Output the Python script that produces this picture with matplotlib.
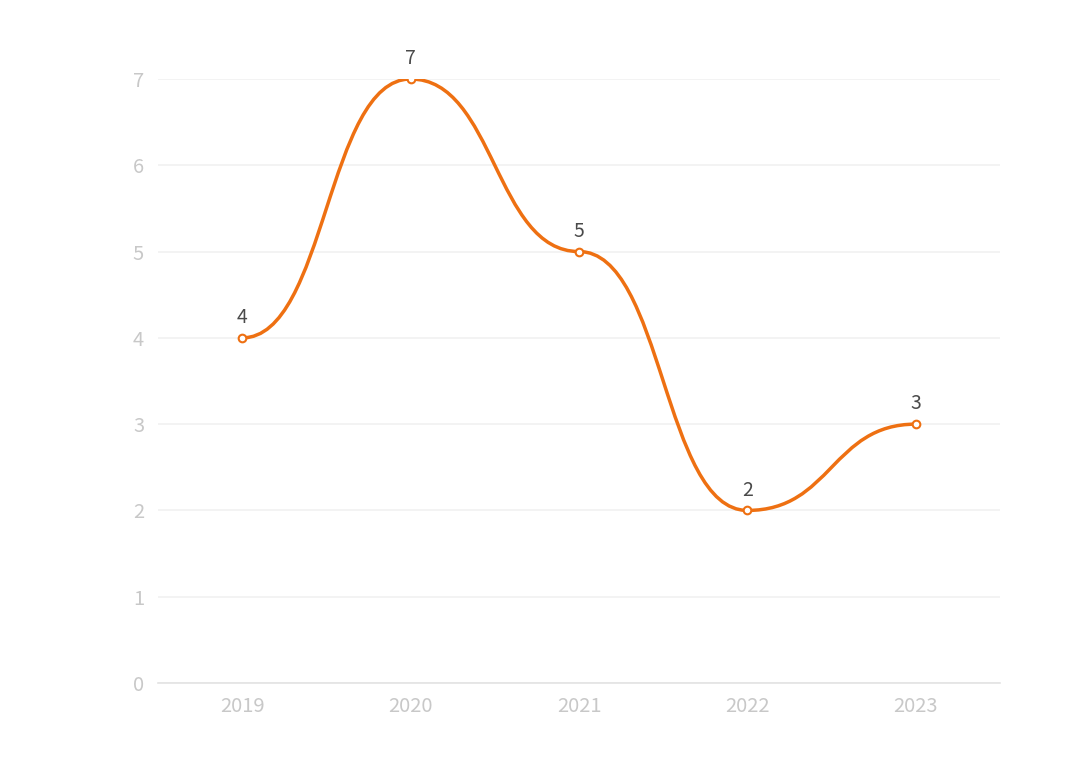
import numpy as np
import matplotlib.pyplot as plt
from matplotlib.path import Path
from matplotlib.patches import PathPatch

plt.rcParams['font.family'] = ['Noto Sans CJK SC', 'DejaVu Sans']

# Data
years = ['2019', '2020', '2021', '2022', '2023']
values = [4, 7, 5, 2, 3]

line_color = '#ee7012'
tick_color = '#c8c8c8'

fig = plt.figure(figsize=(10.8, 7.62), dpi=100)
ax = fig.add_axes([158 / 1080, 79 / 762, 842 / 1080, 604 / 762])

x = np.arange(len(years))

# smooth curve: cubic bezier segments with flat tangents at each point
verts = [(x[0], values[0])]
codes = [Path.MOVETO]
for i in range(len(x) - 1):
    x0, y0 = x[i], values[i]
    x1, y1 = x[i + 1], values[i + 1]
    k = 0.5 * (x1 - x0)
    verts += [(x0 + k, y0), (x1 - k, y1), (x1, y1)]
    codes += [Path.CURVE4] * 3
ax.add_patch(PathPatch(Path(verts, codes), fill=False, edgecolor=line_color,
                       lw=2.5, zorder=3, capstyle='round', joinstyle='round'))

ax.plot(x, values, linestyle='none', marker='o', markersize=5.5,
        markerfacecolor='white', markeredgecolor=line_color,
        markeredgewidth=1.5, zorder=4)

for xi, v in zip(x, values):
    ax.annotate(str(v), (xi, v), xytext=(0, 7), textcoords='offset points',
                ha='center', va='bottom', fontsize=14, color='#4a4a4a')

ax.set_xlim(-0.5, len(years) - 0.5)
ax.set_ylim(0, 7)
ax.set_xticks(x)
ax.set_xticklabels(years)
ax.set_yticks(range(0, 8))

ax.grid(axis='y', color='#f0f0f0', linewidth=1.1)
ax.set_axisbelow(True)
for side in ['top', 'right', 'left']:
    ax.spines[side].set_visible(False)
ax.spines['bottom'].set_color('#e3e3e3')
ax.spines['bottom'].set_linewidth(1.2)

ax.tick_params(axis='both', length=0, labelsize=14.5, labelcolor=tick_color)
ax.tick_params(axis='x', pad=9)
ax.tick_params(axis='y', pad=10)

fig.savefig('out.png', dpi=100)
